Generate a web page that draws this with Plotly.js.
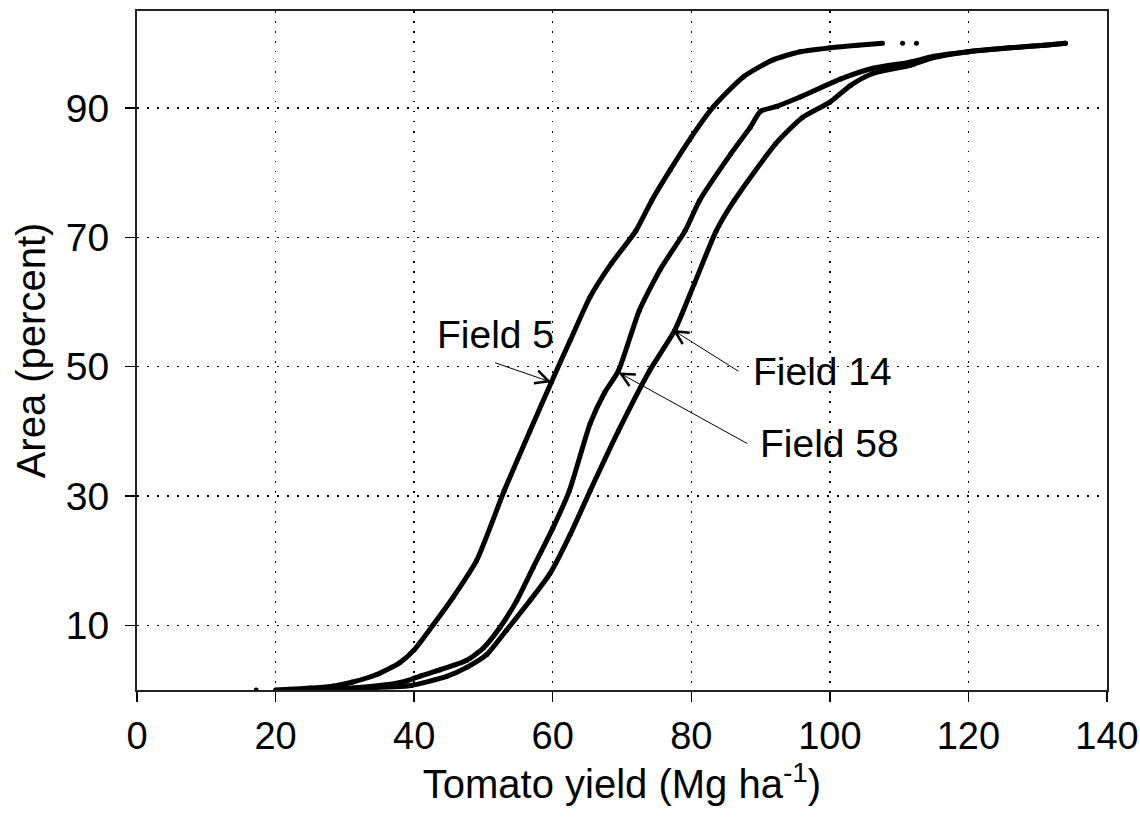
<!DOCTYPE html>
<html>
<head>
<meta charset="utf-8">
<script src="https://cdn.plot.ly/plotly-3.0.1.min.js"></script>
<style>html,body{margin:0;padding:0;background:#fff;}#chart{width:1140px;height:827px;}</style>
</head>
<body>
<div id="chart"></div>
<script>
// ---- Data (cumulative area vs yield) ----
var field5X = [20, 22, 25, 28.3, 31, 34.6, 37.9, 40, 42.7, 45.6, 49, 53, 56.7, 59.8, 62.5, 65.4, 68.5, 72, 74.3, 77, 80, 83.2, 87.5, 91.7, 95.7, 100, 104, 107.6];
var field5Y = [0, 0.1, 0.3, 0.6, 1.2, 2.4, 4.2, 6.2, 10, 14.3, 20, 30.8, 40, 47.6, 54, 60.8, 66, 71, 75.7, 80.5, 85.5, 90.2, 94.8, 97.4, 98.7, 99.3, 99.7, 100];
var field5DotsX = [17.2, 110.5, 112.5];
var field5DotsY = [0, 100, 100];

var field58X = [24, 28, 32, 36, 38.9, 41, 43.7, 47.6, 50, 52.4, 54.8, 57.2, 60, 62.4, 65.4, 67.5, 69.5, 72.5, 75.5, 79.1, 81.2, 85.7, 88.5, 90, 92.2, 95.7, 101.6, 106.1, 111.6, 115, 120, 126, 131, 134];
var field58Y = [0, 0.2, 0.4, 0.8, 1.4, 2.2, 3.1, 4.6, 6.5, 9.7, 13.8, 19, 25, 30.8, 41.2, 46, 49.4, 58.7, 65, 71, 75.7, 82.9, 87, 89.5, 90.2, 91.7, 94.5, 96.1, 97.1, 98, 98.7, 99.3, 99.7, 100];

var field14X = [26, 30, 34, 37, 39.6, 44.7, 47.6, 50.5, 53.3, 56.7, 59.6, 62.5, 65.4, 69.5, 74, 77.6, 80.5, 83.6, 86.2, 92.2, 96, 100, 103, 106.1, 111.6, 115, 120, 126, 131, 134];
var field14Y = [0, 0.2, 0.4, 0.5, 0.7, 2.1, 3.5, 5.5, 9.2, 13.8, 18, 24, 30.8, 40.1, 49.4, 55.6, 63, 71, 75.7, 84.5, 88.5, 90.9, 93.5, 95.3, 96.6, 97.8, 98.7, 99.3, 99.7, 100];

var xTicks = [0, 20, 40, 60, 80, 100, 120, 140];
var xTickText = ['0', '20', '40', '60', '80', '100', '120', '140'];
var yTicks = [10, 30, 50, 70, 90];

// labels: arrow heads (point on curve) and arrow tails (where the label sits)
var labelText = ['Field 5', 'Field 14', 'Field 58'];
var headX = [59.8, 77.3, 69.5];
var headY = [47.6, 55.7, 49.1];
var tailX = [51.7, 86.8, 88.1];
var tailY = [50.6, 49.3, 38.1];
var labelXAnchor = ['center', 'left', 'left'];
var labelYAnchor = ['bottom', 'middle', 'middle'];
var labelPad = [7, 15, 13];

var FONT = 'Arial, "Liberation Sans", sans-serif';

function curve(x, y, name) {
  return {x: x, y: y, name: name, type: 'scatter', mode: 'lines+markers',
    line: {color: '#000', width: 5, shape: 'spline', smoothing: 0.6},
    marker: {color: '#000', size: 5}, hoverinfo: 'x+y', showlegend: false};
}

var traces = [
  curve(field5X, field5Y, 'Field 5'),
  curve(field58X, field58Y, 'Field 58'),
  curve(field14X, field14Y, 'Field 14'),
  {x: field5DotsX, y: field5DotsY, type: 'scatter', mode: 'markers',
   marker: {color: '#000', size: 5}, showlegend: false, hoverinfo: 'x+y'}
];

var annotations = [];
for (var i = 0; i < labelText.length; i++) {
  annotations.push({x: headX[i], y: headY[i], xref: 'x', yref: 'y', text: labelText[i],
    showarrow: true, axref: 'x', ayref: 'y', ax: tailX[i], ay: tailY[i],
    xanchor: labelXAnchor[i], yanchor: labelYAnchor[i], borderpad: labelPad[i], borderwidth: 0,
    font: {family: FONT, size: 39, color: '#000'},
    arrowhead: 5, arrowsize: 2.6, arrowwidth: 1, arrowcolor: '#000', standoff: 0, startstandoff: 0});
}

var layout = {
  width: 1140, height: 827,
  margin: {l: 137, r: 33, t: 11, b: 137},
  paper_bgcolor: '#fff', plot_bgcolor: '#fff',
  font: {family: FONT, color: '#000', size: 39},
  xaxis: {
    range: [0, 140], tickvals: xTicks, ticktext: xTickText,
    ticks: 'outside', ticklen: 10, tickwidth: 1.5, tickcolor: '#000',
    showline: true, linecolor: '#222', linewidth: 2, mirror: true,
    showgrid: true, gridcolor: '#000', gridwidth: 1.5, griddash: '1.5px,8.5px',
    zeroline: false, tickfont: {size: 38}, ticklabelstandoff: 1, ticklabeloverflow: 'allow',
    title: {text: 'Tomato yield (Mg ha<sup>-1</sup>)', font: {size: 40}, standoff: 10}
  },
  yaxis: {
    range: [0, 105], tickvals: yTicks, ticktext: yTicks.map(String),
    ticks: 'outside', ticklen: 10, tickwidth: 1.5, tickcolor: '#000',
    showline: true, linecolor: '#222', linewidth: 2, mirror: true,
    showgrid: true, gridcolor: '#000', gridwidth: 1.5, griddash: '1.5px,8.5px',
    zeroline: false, tickfont: {size: 39}, ticklabelstandoff: 8,
    title: {text: 'Area (percent)', font: {size: 40}, standoff: 8}
  },
  annotations: annotations
};

Plotly.newPlot('chart', traces, layout, {staticPlot: true, displayModeBar: false});
</script>
</body>
</html>
